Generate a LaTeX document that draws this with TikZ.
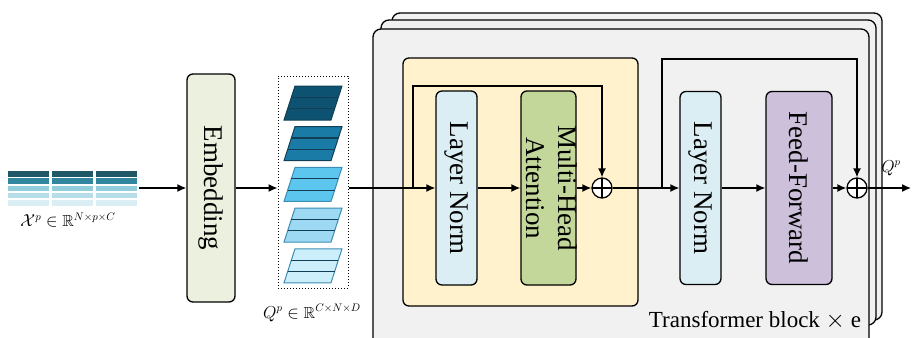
\documentclass[tikz,border=0pt]{standalone}
\usepackage{fontspec}
\setmainfont{Liberation Serif}
\usepackage{amssymb}
\usepackage{graphicx}
\usetikzlibrary{arrows.meta,calc}

% fills
\definecolor{panelgray}{HTML}{F1F1F1}
\definecolor{attnyellow}{HTML}{FFF2CC}
\definecolor{embfill}{HTML}{EBF1DE}
\definecolor{normfill}{HTML}{DAEEF3}
\definecolor{mhafill}{HTML}{C4D79B}
\definecolor{fffill}{HTML}{CCC0DA}
% input series shades
\definecolor{barA}{HTML}{215868}
\definecolor{barB}{HTML}{31859C}
\definecolor{barC}{HTML}{92CDDC}
\definecolor{barD}{HTML}{B7DEE8}
\definecolor{barE}{HTML}{DAEEF3}
% token patch shades
\definecolor{tokA}{HTML}{0D5270}
\definecolor{tokB}{HTML}{1A7CA6}
\definecolor{tokC}{HTML}{5CC6EE}
\definecolor{tokD}{HTML}{9DD9F3}
\definecolor{tokE}{HTML}{CDEEFB}
\definecolor{tokedge}{HTML}{123F55}
\definecolor{tokedgelight}{HTML}{3C8DB3}

\tikzset{
  box/.style={draw=black, rounded corners=6pt, line width=1.3pt, inner sep=0pt},
  panel/.style={draw=black, fill=panelgray, rounded corners=8pt, line width=1.3pt},
  arr/.style={-{Latex[length=9pt,width=8pt]}, line width=1.3pt},
  boxtext/.style={font=\fontsize{27}{32}\selectfont},
  mathlbl/.style={font=\fontsize{16}{18}\selectfont, inner sep=0pt},
  oplus/.style={circle, draw=black, fill=white, line width=1.3pt,
    minimum size=20pt, inner sep=0pt,
    path picture={
      \draw[line width=1.3pt] (path picture bounding box.north) -- (path picture bounding box.south);
      \draw[line width=1.3pt] (path picture bounding box.west) -- (path picture bounding box.east);
    }},
}

\begin{document}
\begin{tikzpicture}[x=1pt, y=-1pt]
\useasboundingbox (0,0) rectangle (912,337);

% ---- input series: five rows of three segments ----
\foreach \c [count=\i from 0] in {barA,barB,barC,barD,barE}{
  \foreach \xa/\xb in {8/49, 52/93, 96/137}{
    \fill[\c] (\xa,{171+7.3*\i}) rectangle (\xb,{176.5+7.3*\i});
  }
}
\node[minimum width=133pt, minimum height=36pt, inner sep=0pt] (xin) at (72.5,188) {};
\node[mathlbl] (xlbl) at (68,220) {$\mathcal{X}^{p}\in\mathbb{R}^{N\times p\times C}$};

% ---- embedding ----
\node[box, fill=embfill, minimum width=48pt, minimum height=228pt, boxtext] (emb) at (211,188) {\rotatebox{-90}{Embedding}};

% ---- patch tokens ----
\node[draw, dotted, line width=1pt, minimum width=70pt, minimum height=212pt, inner sep=0pt] (tok) at (313,182) {};
\foreach \c/\e [count=\i from 0] in {tokA/tokedge, tokB/tokedge, tokC/tokedgelight, tokD/tokedgelight, tokE/tokedgelight}{
  \pgfmathsetmacro{\yt}{86+40.7*\i}
  \filldraw[fill=\c, draw=\e, line width=1pt]
    (295,\yt) -- (342,\yt) -- (331,\yt+34) -- (284,\yt+34) -- cycle;
  \draw[tokedge, line width=1.1pt] (295-11/3,\yt+34/3) -- (342-11/3,\yt+34/3);
  \draw[tokedge, line width=1.1pt] (295-22/3,\yt+68/3) -- (342-22/3,\yt+68/3);
}
\node[mathlbl] (qlbl) at (312,313) {$Q^{p}\in\mathbb{R}^{C\times N\times D}$};

% ---- stacked transformer blocks ----
\draw[panel] (392,13) rectangle (882,320);
\draw[panel] (381,20) rectangle (876,325);
\draw[panel] (373,29) rectangle (869,360);
\node[font=\fontsize{23}{26}\selectfont, inner sep=0pt] (blocklbl) at (755,320) {Transformer block $\times$ e};

% attention sub-block
\node[box, fill=attnyellow, minimum width=235pt, minimum height=248pt] (attn) at (520.5,182) {};
\node[box, fill=normfill, minimum width=41pt, minimum height=194pt, boxtext] (ln1) at (456.5,188) {\rotatebox{-90}{Layer Norm}};
\node[box, fill=mhafill, minimum width=55pt, minimum height=194pt] (mha) at (548.5,188) {};
\node[boxtext, inner sep=0pt] (mhatext) at (mha.center)
  {\rotatebox{-90}{\begin{tabular}{@{}c@{}}Multi-Head\\Attention\end{tabular}}};
\node[oplus] (o1) at (602,188) {};

% feed-forward sub-block
\node[box, fill=normfill, minimum width=41pt, minimum height=193pt, boxtext] (ln2) at (700.5,188) {\rotatebox{-90}{Layer Norm}};
\node[box, fill=fffill, minimum width=66pt, minimum height=193pt, boxtext] (ff) at (799,188) {\rotatebox{-90}{Feed-Forward}};
\node[oplus] (o2) at (857,188) {};

% ---- connectors ----
\draw[arr] (xin.east) -- (emb.west);
\draw[arr] (emb.east) -- (emb.east -| tok.west);
\draw[arr] (tok.east |- ln1.west) -- (ln1.west);
\draw[arr] (ln1.east) -- (mha.west);
\draw[arr] (mha.east) -- (o1.west);
\draw[arr] (o1.east) -- (ln2.west);
\draw[arr] (ln2.east) -- (ff.west);
\draw[arr] (ff.east) -- (o2.west);
\coordinate (out) at (911,188);
\draw[arr] (o2.east) -- (out);
\node[mathlbl] (outlbl) at (891,168) {$Q^{p}$};

% residual paths
\coordinate (r1) at (413,188);
\coordinate (r2) at (662,188);
\draw[arr] (r1) -- ++(0,-102) -| (o1.north);
\draw[arr] (r2) -- ++(0,-129) -| (o2.north);
\end{tikzpicture}
\end{document}
